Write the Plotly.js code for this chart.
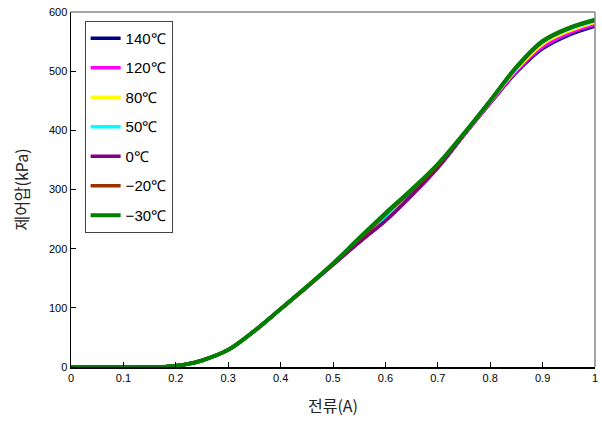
<!DOCTYPE html>
<html><head><meta charset="utf-8">
<script src="https://cdn.plot.ly/plotly-3.0.1.min.js"></script>
<style>body{margin:0;padding:0;background:#fff}#chart{width:602px;height:426px}</style>
</head><body><div id="chart"></div>
<script>
const current = [0,0.05,0.1,0.15,0.18,0.2,0.22,0.25,0.3,0.35,0.4,0.45,0.5,0.55,0.6,0.65,0.7,0.75,0.8,0.85,0.9,0.95,1.0];
const p140 = [0,0,0,0,0.5,2,4.5,11,29,61,98,135,173,211,249,291,337,392,446,498,538,561,576];
const p120 = [0,0,0,0,0.5,2,4.5,11,29,61,98,135,173,211,248,290,337,392,447,500,541,564,579];
const p80  = [0,0,0,0,0.5,2,4.5,11,29,61,98,135,174,213,253,295,339,393,449,503,546,568,583];
const p50  = [0,0,0,0,0.5,2,4.5,11,29,61,98,135,173,212,250,292,338,393,450,505,549,571,585];
const p0   = [0,0,0,0,0.5,2,4.5,11,29,61,98,135,173,211,247,290,337,393,450,506,550,572,586];
const pm20 = [0,0,0,0,0.5,2,4.5,11,29,61,98,135,174,216,258,298,341,394,450,507,550,573,586];
const pm30 = [0,0,0,0,0.5,2,4.5,11,29,61,98,136,175,218,260,300,343,395,450,507,551,573,587];
const names = ['140℃','120℃','80℃','50℃','0℃','−20℃','−30℃'];
const colors = ['#000080','#ff00ff','#ffff00','#00ffff','#800080','#993300','#008000'];
const series = [p140,p120,p80,p50,p0,pm20,pm30];
const xTicks = [0,0.1,0.2,0.3,0.4,0.5,0.6,0.7,0.8,0.9,1];
const xTickText = ['0','0.1','0.2','0.3','0.4','0.5','0.6','0.7','0.8','0.9','1'];
const yTicks = [0,100,200,300,400,500,600];

const traces = series.map((s,i)=>({
  x: current, y: s, type:'scatter', mode:'lines', name: names[i],
  legendgroup: 'g'+i,
  line:{color: colors[i], width: i===6?4:3.5, shape:'spline', smoothing:1}
}));

const layout = {
  width:602, height:426,
  margin:{l:71,r:7,t:12,b:59},
  paper_bgcolor:'#fff', plot_bgcolor:'#fff',
  font:{family:'"Liberation Sans", Arial, sans-serif', size:11, color:'#000'},
  showlegend:true,
  legend:{x:0.026, y:0.975, xanchor:'left', yanchor:'top',
    bgcolor:'#fff', bordercolor:'#444', borderwidth:1,
    font:{size:15, family:'"Liberation Sans", Arial, sans-serif', color:'#000'},
    traceorder:'grouped', tracegroupgap:7, itemwidth:30, entrywidth:60, entrywidthmode:'pixels'},
  xaxis:{range:[0,1], tickvals:xTicks, ticktext:xTickText, ticks:'inside', ticklen:5,
    tickcolor:'#000', showline:true, linecolor:'#000', linewidth:1.5, showgrid:false, zeroline:false,
    tickfont:{size:11},
    title:{text:'전류(A)', font:{family:'"Noto Sans CJK KR", sans-serif', size:16, color:'#222'}, standoff:18}},
  yaxis:{range:[0,600], tickvals:yTicks, ticks:'inside', ticklen:5,
    tickcolor:'#000', showline:true, linecolor:'#000', linewidth:1.5, showgrid:false, zeroline:false,
    tickfont:{size:11},
    title:{text:'제어압(kPa)', font:{family:'"Noto Sans CJK KR", sans-serif', size:16, color:'#222'}, standoff:16}},
  shapes:[
    {type:'line', xref:'paper', yref:'paper', x0:0, x1:1, y0:1, y1:1, line:{color:'#888', width:1.5}},
    {type:'line', xref:'paper', yref:'paper', x0:1, x1:1, y0:0, y1:1, line:{color:'#888', width:1.5}}
  ]
};
Plotly.newPlot('chart', traces, layout, {displayModeBar:false, staticPlot:true});
</script></body></html>
